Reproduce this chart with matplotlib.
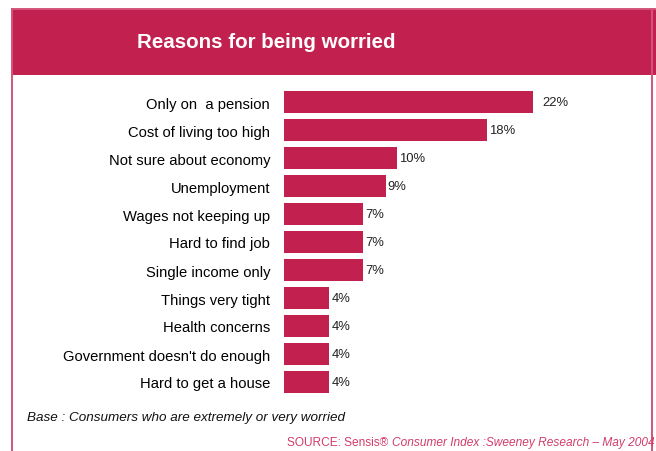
import matplotlib
matplotlib.use("Agg")
import matplotlib.pyplot as plt
from matplotlib.patches import Rectangle
from matplotlib.lines import Line2D

plt.rcParams['font.family'] = ['Liberation Sans', 'DejaVu Sans']

categories = [
    "Only on  a pension",
    "Cost of living too high",
    "Not sure about economy",
    "Unemployment",
    "Wages not keeping up",
    "Hard to find job",
    "Single income only",
    "Things very tight",
    "Health concerns",
    "Government doesn't do enough",
    "Hard to get a house",
]
values = [22, 18, 10, 9, 7, 7, 7, 4, 4, 4, 4]
title = "Reasons for being worried"
base_note = "Base : Consumers who are extremely or very worried"

CRIMSON = "#C2214F"
BORDER = "#D4547A"
W, H = 656, 452
fig = plt.figure(figsize=(W / 100, H / 100), dpi=100)


def fx(px):
    return px / W


def fy(py):
    return 1 - py / H


# frame: left, right and top edges, open at the bottom
for xs, ys in [((11.5, 11.5), (9.5, 452)),
               ((652, 652), (9.5, 452)),
               ((11.5, 655), (9.5, 9.5))]:
    fig.add_artist(Line2D([fx(x) for x in xs], [fy(y) for y in ys],
                          transform=fig.transFigure, color=BORDER, linewidth=1.4))

# header band
fig.patches.append(Rectangle((fx(11), fy(76)), fx(645), fy(10) - fy(76),
                             transform=fig.transFigure, facecolor=CRIMSON,
                             edgecolor="none"))
fig.text(fx(266), fy(43), title, color="white", fontsize=14.8, fontweight="bold",
         ha="center", va="center")

# bar axes: bars start at x=284px, 11.3 px per percent
left, right = 284, 656
top, bottom = 89, 397
ax = fig.add_axes([fx(left), fy(bottom), fx(right - left), fy(top) - fy(bottom)])
ax.set_xlim(0, (right - left) / 11.3)
ax.set_ylim(len(categories) - 0.5, -0.5)

ypos = list(range(len(categories)))
ax.barh(ypos, values, height=0.8, color=CRIMSON)
ax.set_yticks(ypos)
ax.set_yticklabels(categories, fontsize=10.6)
ax.tick_params(axis="y", length=0, pad=10)
ax.set_xticks([])
for s in ax.spines.values():
    s.set_visible(False)
ax.patch.set_alpha(0)

for i, v in enumerate(values):
    off = 7 if v == max(values) else 1.5
    ax.annotate(f"{v}%", (v, i), xytext=(off, 0), textcoords="offset points",
                va="center", ha="left", fontsize=9.4, color="#222222")

fig.text(fx(27), fy(418), base_note, fontsize=9.7, style="italic",
         ha="left", va="center", color="#111111")

src = fig.text(fx(287), fy(443), "SOURCE: Sensis® ", fontsize=8.55,
               ha="left", va="center", color="#D23C6A")
fig.canvas.draw()
bb = src.get_window_extent()
fig.text(bb.x1 / W, fy(443), "Consumer Index :Sweeney Research – May 2004",
         fontsize=8.55, style="italic", ha="left", va="center", color="#D23C6A")

fig.savefig("out.png", dpi=100)
